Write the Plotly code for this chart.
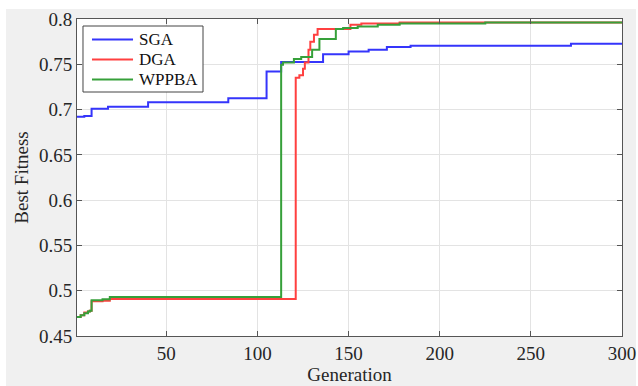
import plotly.graph_objects as go

# Generation / best fitness change points (step curves)
sga_gen = [1, 5, 9, 18, 40, 84, 105, 113, 136, 150, 161, 171, 184, 272, 300]
sga_val = [0.692, 0.693, 0.701, 0.703, 0.708, 0.7125, 0.742, 0.7525, 0.761, 0.764,
           0.766, 0.769, 0.7705, 0.7727, 0.7727]

dga_gen = [1, 3, 5, 7, 8, 9, 15, 19, 121, 123, 125, 126, 128, 129, 131, 133,
           151, 157, 178, 300]
dga_val = [0.471, 0.473, 0.476, 0.477, 0.478, 0.4885, 0.489, 0.4908, 0.735, 0.738,
           0.745, 0.752, 0.766, 0.775, 0.7826, 0.789, 0.7937, 0.795, 0.7962, 0.7962]

wppba_gen = [1, 3, 5, 7, 8, 9, 15, 19, 113, 114, 120, 124, 130, 134, 143, 147,
             155, 166, 178, 225, 300]
wppba_val = [0.471, 0.473, 0.475, 0.477, 0.478, 0.4895, 0.4905, 0.493, 0.7495,
             0.752, 0.7557, 0.758, 0.766, 0.778, 0.789, 0.790, 0.7918, 0.7937,
             0.795, 0.7962, 0.7962]

series_names = ["SGA", "DGA", "WPPBA"]
series_colors = ["#3535fb", "#ff4040", "#36a03a"]

x_ticks = [50, 100, 150, 200, 250, 300]
y_ticks = [0.45, 0.5, 0.55, 0.6, 0.65, 0.7, 0.75, 0.8]

FONT = "Liberation Serif"
TXT = "#262626"

fig = go.Figure()
for name, color, gx, gy in zip(series_names, series_colors,
                               [sga_gen, dga_gen, wppba_gen],
                               [sga_val, dga_val, wppba_val]):
    fig.add_trace(go.Scatter(x=gx, y=gy, name=name, mode="lines", showlegend=False,
                             line=dict(color=color, width=2, shape="hv")))

axis_common = dict(
    showline=True, linecolor="#555555", linewidth=1, mirror="ticks",
    ticks="inside", ticklen=5, tickcolor="#555555",
    showgrid=True, gridcolor="#e3e3e3", gridwidth=1, zeroline=False,
    tickfont=dict(family=FONT, size=19, color=TXT),
    automargin=False,
)

fig.update_xaxes(range=[1, 300], tickvals=x_ticks,
                 title=dict(text="Generation", font=dict(family=FONT, size=19, color=TXT),
                            standoff=0),
                 **axis_common)
fig.update_yaxes(range=[0.45, 0.8], tickvals=y_ticks,
                 title=dict(text="Best Fitness", font=dict(family=FONT, size=19, color=TXT),
                            standoff=5),
                 **axis_common)

# Custom legend box (compact, like the reference)
shapes = [
    dict(type="rect", xref="paper", yref="paper", x0=-0.1303, x1=1.0257,
         y0=-0.2, y1=1.0315, fillcolor="#f0f0f0", line=dict(width=0), layer="below"),
    dict(type="rect", xref="x domain", yref="y domain", x0=0, x1=1, y0=0, y1=1,
         fillcolor="white", line=dict(width=0), layer="below"),
    dict(type="rect", xref="paper", yref="paper", x0=0.011, x1=0.2312,
         y0=0.7697, y1=0.9779, fillcolor="white", line=dict(color="#444444", width=1),
         layer="above"),
]
annotations = []
row_y = [0.9353, 0.8722, 0.8091]
for name, color, ry in zip(series_names, series_colors, row_y):
    shapes.append(dict(type="line", xref="paper", yref="paper", x0=0.0275, x1=0.1028,
                       y0=ry, y1=ry, line=dict(color=color, width=2), layer="above"))
    annotations.append(dict(xref="paper", yref="paper", x=0.1101, y=ry, text=name,
                            showarrow=False, xanchor="left", yanchor="middle",
                            font=dict(family=FONT, size=17, color="#111111")))

fig.update_layout(
    width=638, height=386,
    margin=dict(l=77, r=16, t=19, b=50, autoexpand=False),
    paper_bgcolor="white", plot_bgcolor="white",
    showlegend=False,
    shapes=shapes,
    annotations=annotations,
)

fig.write_html("out.html", config={"displayModeBar": False},
               post_script="document.body.style.margin='0px';document.body.style.overflow='hidden';")
